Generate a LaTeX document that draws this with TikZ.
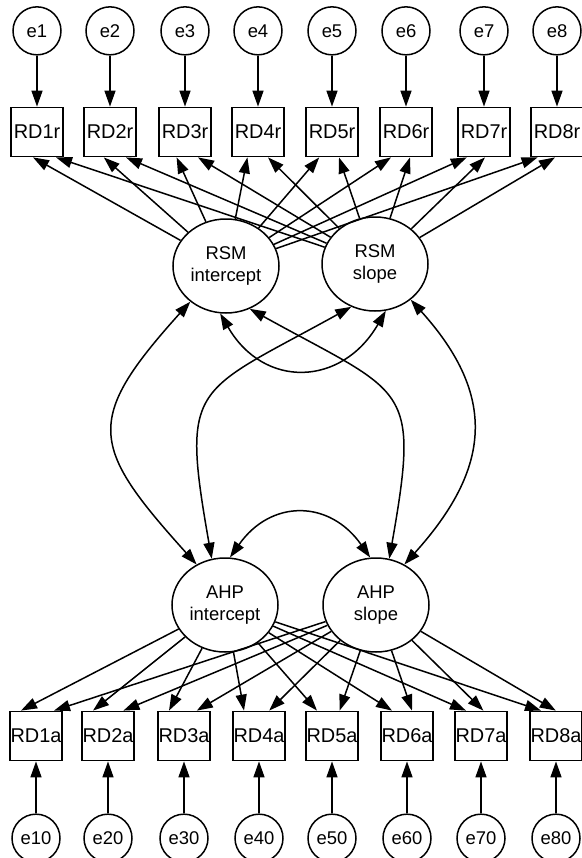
\documentclass[tikz,border=0pt]{standalone}
\usepackage{fontspec}
\setmainfont{Liberation Sans}
\usetikzlibrary{positioning}
\usetikzlibrary{shapes}
\usetikzlibrary{arrows.meta}
\tikzset{>={Triangle[length=8bp,width=5.5bp]}}
\tikzset{
  obs/.style={draw, line width=0.9bp, minimum width=26bp, minimum height=24.5bp, inner sep=0pt, font=\fontsize{10}{11}\selectfont},
  err/.style={draw, circle, line width=0.75bp, minimum size=24bp, inner sep=0pt},
  lat/.style={draw, ellipse, line width=0.75bp, minimum width=53bp, minimum height=47bp, inner sep=0pt, align=center},
  load/.style={->, line width=0.75bp},
  cov/.style={<->, line width=0.75bp}
}

\begin{document}
\begin{tikzpicture}[
            x=0.5bp, y=0.5bp,
            font=\fontsize{9.25}{11}\selectfont
        ]
        \useasboundingbox (0,0) rectangle (582,-858);
        % latent factors
        \node[lat] (rsmInt) at (226,-266) {RSM\\intercept};
        \node[lat] (rsmSlope) at (375,-264) {RSM\\slope};
        \node[lat] (ahpInt) at (225,-605) {AHP\\intercept};
        \node[lat] (ahpSlope) at (376,-605) {AHP\\slope};
        % RSM items
        \foreach \i/\x in {1/37,2/110,3/185,4/258,5/332,6/406,7/484,8/557} {
            \node[obs] (RD\i r) at (\x,-132) {RD\i r};
            \node[err, above=25.5bp of RD\i r] (e\i) {e\i};
            \path[load] (e\i) edge (RD\i r);
            \pgfmathsetmacro\offInt{(-4-2.2*(\i-1))*0.5}
            \pgfmathsetmacro\offSlope{(19-3*(\i-1))*0.5}
            \draw[load] (rsmInt) -- ([xshift=\offInt bp]RD\i r.south);
            \draw[load] (rsmSlope) -- ([xshift=\offSlope bp]RD\i r.south);
        }
        % AHP items
        \foreach \i/\x in {1/36,2/108,3/184,4/259,5/332,6/407,7/481,8/556} {
            \node[obs] (RD\i a) at (\x,-736) {RD\i a};
            \node[err, below=26bp of RD\i a] (e\i0) {e\i0};
            \path[load] (e\i0) edge (RD\i a);
            \pgfmathsetmacro\offSlope{(18-2.6*(\i-1))*0.5}
            \draw[load] (ahpInt) -- ([xshift=-7.5bp]RD\i a.north);
            \draw[load] (ahpSlope) -- ([xshift=\offSlope bp]RD\i a.north);
        }
        % covariances
        \draw[cov] (rsmInt.225) to[out=228, in=132, looseness=1.55] (ahpInt.125);
        \draw[cov] (rsmSlope.315) to[out=312, in=48, looseness=1.25] (ahpSlope.55);
        \draw[cov] (rsmInt.299) to[out=331, in=80, looseness=1.6] (ahpSlope.74);
        \draw[cov] (rsmSlope.241) to[out=209, in=100, looseness=1.6] (ahpInt.106);
        \draw[cov] (rsmInt.263) to[out=300, in=240, looseness=1.35] (rsmSlope.283);
        \draw[cov] (ahpInt.84) to[out=55, in=125, looseness=1.3] (ahpSlope.97);
\end{tikzpicture}
\end{document}
